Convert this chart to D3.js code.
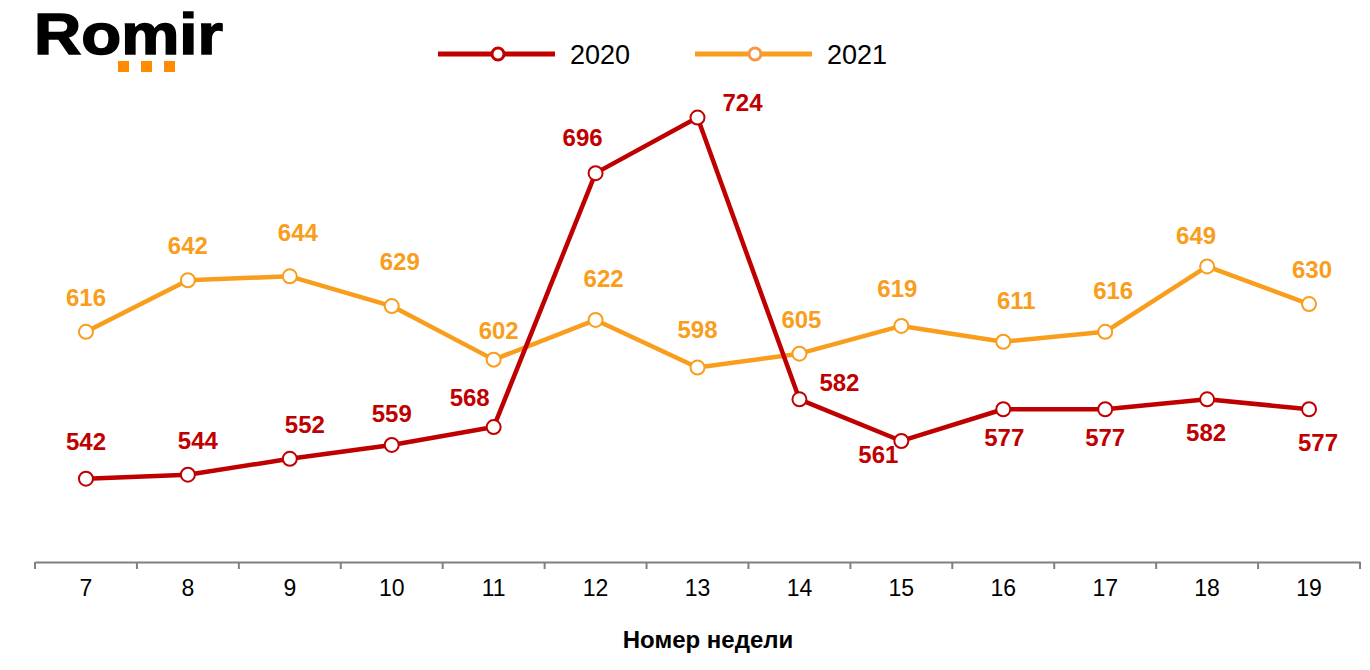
<!DOCTYPE html>
<html>
<head>
<meta charset="utf-8">
<script src="https://cdn.jsdelivr.net/npm/d3@7"></script>
<style>
  body { margin: 0; background: #fff; }
  text { font-family: "Liberation Sans", Arial, sans-serif; }
</style>
</head>
<body>
<div id="chart"></div>
<script>
const weeks = ["7", "8", "9", "10", "11", "12", "13", "14", "15", "16", "17", "18", "19"];
const values2020 = [542, 544, 552, 559, 568, 696, 724, 582, 561, 577, 577, 582, 577];
const values2021 = [616, 642, 644, 629, 602, 622, 598, 605, 619, 611, 616, 649, 630];

// label offsets (dx, dy) from the point
const offsets2020 = [[0,-38],[10,-35],[15,-35],[0,-32],[-24,-30],[-13,-36],[45,-16],[40,-17],[-23,13],[1,28],[0,28],[-1,33],[9,33]];
const offsets2021 = [[0,-35],[0,-35],[8,-44],[8,-45],[5,-30],[8,-42],[0,-39],[2,-35],[-4,-38],[13,-42],[8,-42],[-11,-31],[3,-35]];

const width = 1370, height = 670;
const red = "#C00000", orange = "#F99D1C";

const svg = d3.select("#chart").append("svg")
    .attr("width", width)
    .attr("height", height);

// scales
const x = d3.scaleBand().domain(weeks).range([35, 1360]);
const y = d3.scaleLinear().domain([500, 750]).range([562, 66]);

// x axis
const xAxis = svg.append("g")
    .attr("transform", "translate(0,562)")
    .call(d3.axisBottom(x).tickSize(0).tickPadding(18));
xAxis.select(".domain").attr("stroke", "#808080").attr("stroke-width", 2);
xAxis.selectAll("text").attr("font-size", 23).attr("fill", "#000")
    .style("font-family", "Liberation Sans, Arial, sans-serif");

// ticks between categories
svg.append("g").selectAll("line")
    .data(weeks.concat(["end"]))
    .enter().append("line")
    .attr("x1", (d, i) => i < weeks.length ? x(d) : x.range()[1])
    .attr("x2", (d, i) => i < weeks.length ? x(d) : x.range()[1])
    .attr("y1", 562).attr("y2", 569)
    .attr("stroke", "#808080").attr("stroke-width", 2);

svg.append("text")
    .attr("x", 708).attr("y", 648)
    .attr("text-anchor", "middle")
    .attr("font-size", 24).attr("font-weight", "bold")
    .text("Номер недели");

const cx = (d, i) => x(weeks[i]) + x.bandwidth() / 2;

function drawSeries(values, color, offsets) {
    const line = d3.line().x((d, i) => cx(d, i)).y(d => y(d));
    svg.append("path")
        .datum(values)
        .attr("d", line)
        .attr("fill", "none")
        .attr("stroke", color)
        .attr("stroke-width", 4.5)
        .attr("stroke-linejoin", "round");

    svg.append("g").selectAll("circle")
        .data(values)
        .enter().append("circle")
        .attr("cx", cx)
        .attr("cy", d => y(d))
        .attr("r", 7)
        .attr("fill", "#fff")
        .attr("stroke", color)
        .attr("stroke-width", 2);

    svg.append("g").selectAll("text")
        .data(values)
        .enter().append("text")
        .attr("x", (d, i) => cx(d, i) + offsets[i][0])
        .attr("y", (d, i) => y(d) + offsets[i][1] + 9)
        .attr("text-anchor", "middle")
        .attr("font-size", 24)
        .attr("font-weight", "bold")
        .attr("fill", color)
        .text(d => d);
}

drawSeries(values2021, orange, offsets2021);
drawSeries(values2020, red, offsets2020);

// legend
const legend = [
    {name: "2020", color: red, marker: red, x: 438},
    {name: "2021", color: orange, marker: "#F79646", x: 695}
];
const lg = svg.append("g").selectAll("g")
    .data(legend)
    .enter().append("g")
    .attr("transform", d => "translate(" + d.x + ",54)");
lg.append("line")
    .attr("x1", 0).attr("x2", 117)
    .attr("stroke", d => d.color).attr("stroke-width", 5);
lg.append("circle")
    .attr("cx", 60).attr("r", 6)
    .attr("fill", "#fff").attr("stroke", d => d.marker).attr("stroke-width", 3);
lg.append("text")
    .attr("x", 132).attr("y", 10)
    .attr("font-size", 27)
    .attr("fill", "#000")
    .text(d => d.name);

// logo
const logo = svg.append("g");
logo.append("text")
    .attr("x", 34).attr("y", 54)
    .attr("font-size", 57)
    .attr("font-weight", "bold")
    .attr("textLength", 189)
    .attr("lengthAdjust", "spacingAndGlyphs")
    .attr("fill", "#000")
    .attr("stroke", "#000")
    .attr("stroke-width", 1.5)
    .text("Romir");
logo.selectAll("rect")
    .data([118, 141, 164])
    .enter().append("rect")
    .attr("x", d => d).attr("y", 61)
    .attr("width", 11).attr("height", 11)
    .attr("fill", "#FF8C00");
</script>
</body>
</html>
